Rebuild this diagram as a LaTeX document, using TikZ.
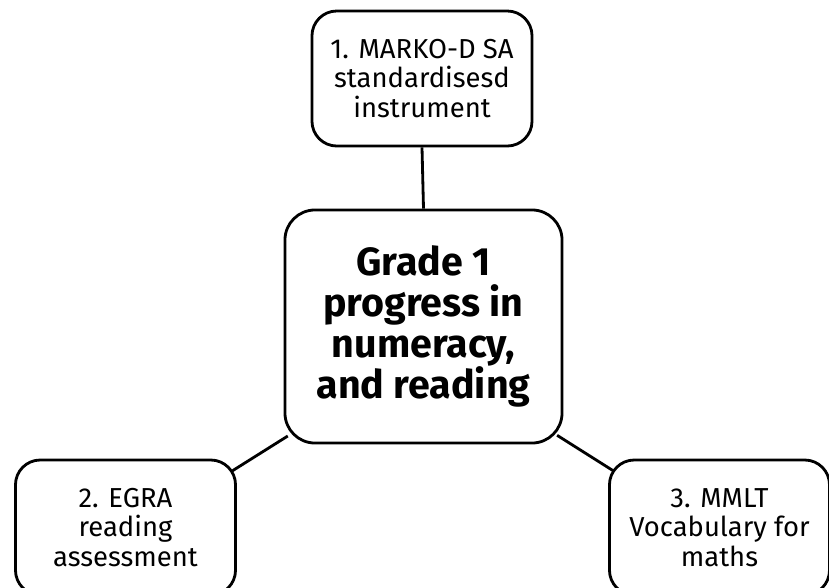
\documentclass[tikz,border=0pt]{standalone}
\usepackage{fontspec}
\setmainfont{Fira Sans}
\usetikzlibrary{backgrounds}

\tikzset{
	tool/.style = {draw, fill=white, line width=2pt, rounded corners=0.62cm, align=center,
		inner sep=0pt, minimum width=5.5cm, minimum height=3.375cm,
		font=\fontsize{19.5}{21}\selectfont},
	goal/.style = {tool, rounded corners=0.75cm, minimum width=6.925cm, minimum height=5.825cm,
		font=\fontsize{28}{29.2}\selectfont\bfseries},
	link/.style = {line width=2pt}
}

\begin{document}
\begin{tikzpicture}[x=0.025cm, y=-0.025cm]
	\useasboundingbox (0,0) rectangle (829,587);
	
	\node [goal] (main) at (423.5,326.5) {Grade 1\\progress in\\numeracy,\\and reading};
	\node [tool] (marko) at (422,78.5) {1. MARKO-D SA\\standardisesd\\instrument};
	\node [tool] (egra) at (125.5,527.5) {2. EGRA\\reading\\assessment};
	\node [tool] (mmlt) at (719.5,527.5) {3. MMLT\\Vocabulary for\\maths};
	
	\begin{scope}[on background layer]
		\draw [link] (marko.south) -- (main.north);
		\draw [link] ([xshift=3pt,yshift=6pt]main.south west) -- ([xshift=-4.5pt,yshift=-9.5pt]egra.north east);
		\draw [link] ([xshift=-4.5pt,yshift=6.5pt]main.south east) -- ([xshift=5pt,yshift=-9.5pt]mmlt.north west);
	\end{scope}
\end{tikzpicture}
\end{document}
